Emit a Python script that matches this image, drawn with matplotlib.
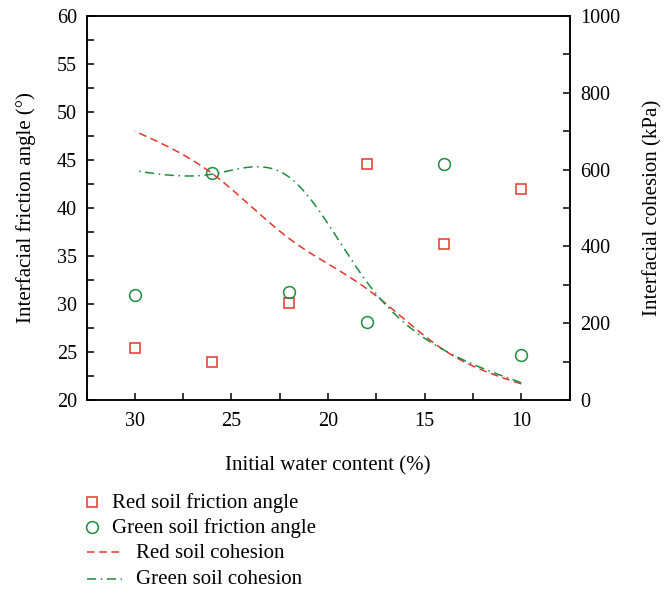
import matplotlib.pyplot as plt
import numpy as np
from matplotlib.lines import Line2D
from matplotlib.ticker import MultipleLocator

plt.rcParams['font.family'] = ['Liberation Serif', 'DejaVu Serif']

# initial water content (%)
water = [30, 26, 22, 18, 14, 10]

# interfacial friction angle (deg)
red_angle = [25.4, 24.0, 30.1, 44.6, 36.3, 42.0]
green_angle = [30.9, 43.6, 31.3, 28.1, 44.6, 24.7]

# interfacial cohesion (kPa)
red_coh = [700, 590, 420, 290, 130, 42]
green_coh = [597, 588, 580, 308, 130, 45]

labels = ['Red soil friction angle', 'Green soil friction angle',
          'Red soil cohesion', 'Green soil cohesion']

RED = '#e4362b'
GREEN = '#1e8c3e'
W, H = 664, 593


def natural_spline(x, y, n=200):
    # natural cubic spline through the measured points
    x = np.asarray(x, float)
    y = np.asarray(y, float)
    order = np.argsort(x)
    x, y = x[order], y[order]
    k = len(x)
    h = np.diff(x)
    A = np.zeros((k, k))
    b = np.zeros(k)
    A[0, 0] = A[-1, -1] = 1
    for i in range(1, k - 1):
        A[i, i - 1] = h[i - 1]
        A[i, i] = 2 * (h[i - 1] + h[i])
        A[i, i + 1] = h[i]
        b[i] = 6 * ((y[i + 1] - y[i]) / h[i] - (y[i] - y[i - 1]) / h[i - 1])
    m = np.linalg.solve(A, b)
    xs = np.linspace(x[0], x[-1], n)
    j = np.clip(np.searchsorted(x, xs) - 1, 0, k - 2)
    t0 = x[j + 1] - xs
    t1 = xs - x[j]
    hj = h[j]
    ys = (m[j] * t0 ** 3 + m[j + 1] * t1 ** 3) / (6 * hj) \
        + (y[j] / hj - m[j] * hj / 6) * t0 \
        + (y[j + 1] / hj - m[j + 1] * hj / 6) * t1
    return xs, ys


fig = plt.figure(figsize=(W / 100, H / 100), dpi=100)
ax = fig.add_axes([86.5 / W, 1 - 400 / H, (569.5 - 86.5) / W, 384 / H])
ax2 = ax.twinx()

sq_style = dict(marker='s', ms=7.5, mfc='none', mec=RED, mew=1.1, ls='none')
ci_style = dict(marker='o', ms=8.5, mfc='none', mec=GREEN, mew=1.1, ls='none')
red_line = dict(color=RED, lw=1.1, dashes=(5, 3))
green_line = dict(color=GREEN, lw=1.1, dashes=(6, 3, 1, 3))

ax.plot(water, red_angle, **sq_style)
ax.plot(water, green_angle, **ci_style)

xs, ys = natural_spline(water, red_coh)
ax2.plot(xs, ys, **red_line)
xs, ys = natural_spline(water, green_coh)
ax2.plot(xs, ys, **green_line)

ax.set_xlim(32.5, 7.5)
ax.set_ylim(20, 60)
ax2.set_ylim(0, 1000)

ax.xaxis.set_major_locator(MultipleLocator(5))
ax.xaxis.set_minor_locator(MultipleLocator(2.5))
ax.yaxis.set_major_locator(MultipleLocator(5))
ax.yaxis.set_minor_locator(MultipleLocator(2.5))
ax2.yaxis.set_major_locator(MultipleLocator(200))
ax2.yaxis.set_minor_locator(MultipleLocator(100))

for a in (ax, ax2):
    for s in a.spines.values():
        s.set_linewidth(1.1)
    a.tick_params(which='both', direction='in', width=1.1, length=5,
                  labelsize=14.5)
ax.tick_params(axis='x', pad=9)
ax.tick_params(axis='y', pad=7)
ax2.tick_params(axis='y', pad=8)

ax.set_xlabel('Initial water content (%)', fontsize=15, labelpad=18)
ax.set_ylabel('Interfacial friction angle (°)', fontsize=15, labelpad=15)
ax2.set_ylabel('Interfacial cohesion (kPa)', fontsize=15, labelpad=16)

# legend below the axes, marker rows and line rows indented differently
rows = [502, 527, 552, 579]
for style, y in ((sq_style, rows[0]), (ci_style, rows[1])):
    fig.add_artist(Line2D([91.5 / W], [1 - y / H], transform=fig.transFigure, **style))
for style, y in ((red_line, rows[2]), (green_line, rows[3])):
    fig.add_artist(Line2D([87 / W, 122 / W], [1 - y / H, 1 - y / H],
                          transform=fig.transFigure, **style))
for lab, y, x0 in zip(labels, rows, [112, 112, 136, 136]):
    fig.text(x0 / W, 1 - (y + 1) / H, lab, fontsize=15, va='center')

fig.savefig('out.png', dpi=100)
